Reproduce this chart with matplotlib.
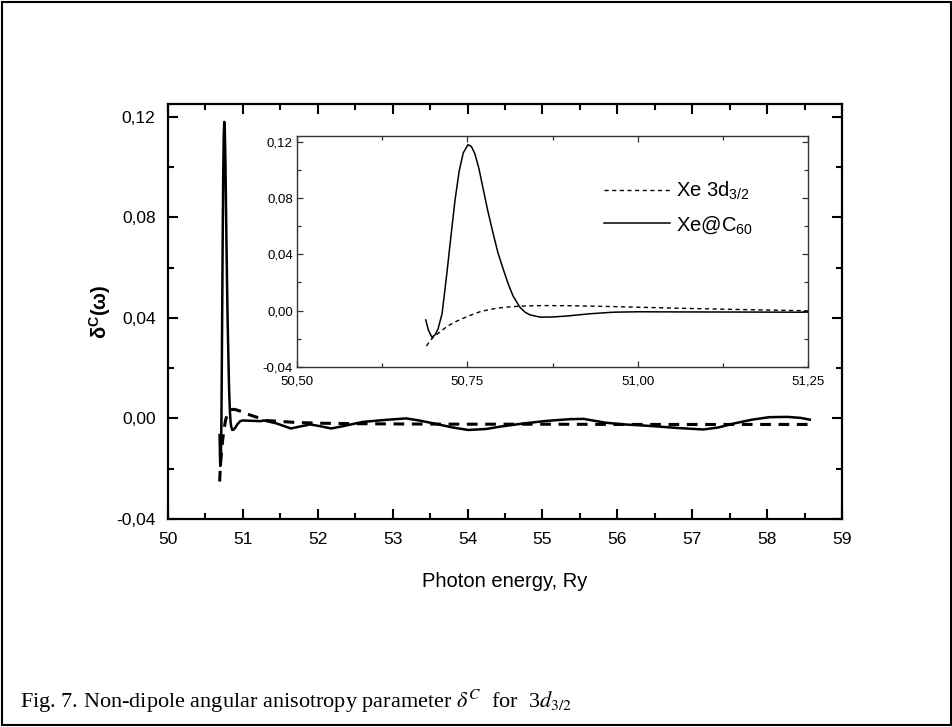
import numpy as np
import matplotlib
matplotlib.use("Agg")
import matplotlib.pyplot as plt
from matplotlib.ticker import MultipleLocator, FuncFormatter
from matplotlib.patches import Rectangle

plt.rcParams['font.family'] = ['Liberation Sans', 'DejaVu Sans']
plt.rcParams['mathtext.fontset'] = 'custom'
plt.rcParams['mathtext.rm'] = 'Liberation Sans'
plt.rcParams['mathtext.it'] = 'Liberation Sans:italic'
plt.rcParams['mathtext.bf'] = 'Liberation Sans:bold'

x_c60_pico = [50.689, 50.693, 50.698, 50.703, 50.707, 50.713, 50.720, 50.726, 50.732,
              50.738, 50.744, 50.751, 50.756, 50.761, 50.767, 50.773, 50.780, 50.788,
              50.795, 50.803, 50.810, 50.817, 50.827, 50.835, 50.842, 50.857, 50.875,
              50.896, 50.930, 50.964, 51.000, 51.062, 51.160, 51.238]
y_c60_pico = [-0.0066, -0.0140, -0.0189, -0.0170, -0.0130, -0.0020, 0.0266, 0.0530, 0.0787,
              0.0990, 0.1120, 0.1179, 0.1165, 0.1115, 0.1010, 0.0870, 0.0710, 0.0545,
              0.0410, 0.0290, 0.0190, 0.0105, 0.0025, -0.0012, -0.0030, -0.0046, -0.0045,
              -0.0038, -0.0022, -0.0011, -0.0008, -0.0009, -0.0010, -0.0011]

x_xe_pico = [50.690, 50.695, 50.700, 50.710, 50.720, 50.732, 50.744, 50.757, 50.769, 50.781,
             50.793, 50.805, 50.818, 50.840, 50.866, 50.900, 50.964, 51.062, 51.150, 51.238]
y_xe_pico = [-0.0251, -0.0215, -0.0189, -0.0150, -0.0113, -0.0080, -0.0054, -0.0028, -0.0007,
             0.0006, 0.0017, 0.0024, 0.0029, 0.0034, 0.0036, 0.0035, 0.0029, 0.0017, 0.0008, 0.0000]

# --- datos: resto del rango (gráfica principal) ---
x_c60_cola = [51.28, 51.45, 51.64, 51.80, 51.90, 52.05, 52.18, 52.35, 52.60, 52.90, 53.18,
              53.35, 53.55, 53.80, 54.01, 54.25, 54.45, 54.75, 55.05, 55.37, 55.55, 55.84,
              56.10, 56.44, 56.80, 57.15, 57.35, 57.56, 57.80, 58.03, 58.27, 58.45, 58.57]
y_c60_cola = [-0.0008, -0.0020, -0.0040, -0.0030, -0.0024, -0.0032, -0.0040, -0.0030, -0.0014,
              -0.0006, 0.0000, -0.0008, -0.0020, -0.0036, -0.0046, -0.0042, -0.0032, -0.0020,
              -0.0010, -0.0003, -0.0002, -0.0017, -0.0024, -0.0030, -0.0038, -0.0044, -0.0036,
              -0.0020, -0.0005, 0.0005, 0.0006, 0.0002, -0.0005]

x_xe_cola = [51.30, 51.50, 51.70, 52.00, 52.50, 53.00, 54.00, 55.00, 56.00, 57.00, 58.00, 58.57]
y_xe_cola = [-0.0008, -0.0012, -0.0016, -0.0019, -0.0021, -0.0022, -0.0023, -0.0023, -0.0024,
             -0.0024, -0.0024, -0.0024]

x_c60 = x_c60_pico + x_c60_cola
y_c60 = y_c60_pico + y_c60_cola
x_xe = x_xe_pico + x_xe_cola
y_xe = y_xe_pico + y_xe_cola

coma = FuncFormatter(lambda v, p: f"{v:.2f}".replace('.', ','))

fig = plt.figure(figsize=(9.53, 7.27), dpi=100)

# --- gráfica principal ---
ax = fig.add_axes([0.1763, 0.2861, 0.7072, 0.5708])
ax.plot(x_xe, y_xe, color='black', lw=2.2, ls=(0, (3.5, 2.5)))
ax.plot(x_c60, y_c60, color='black', lw=1.8)
ax.set_xlim(50, 59)
ax.set_ylim(-0.04, 0.125)
ax.xaxis.set_major_locator(MultipleLocator(1))
ax.xaxis.set_minor_locator(MultipleLocator(0.5))
ax.yaxis.set_major_locator(MultipleLocator(0.04))
ax.yaxis.set_minor_locator(MultipleLocator(0.02))
ax.yaxis.set_major_formatter(coma)
ax.tick_params(which='both', direction='in', top=True, right=True, width=1.5, labelsize=12.5)
ax.tick_params(which='major', length=7, pad=9)
ax.tick_params(which='minor', length=4)
for s in ax.spines.values():
    s.set_linewidth(1.6)
ax.set_xlabel('Photon energy, Ry', fontsize=14.5, labelpad=18)
ax.set_ylabel(r'δ$^{\mathbf{C}}$(ω)', fontsize=14.5, fontweight='bold', labelpad=2)

# --- recuadro ---
ins = fig.add_axes([0.3116, 0.4952, 0.5363, 0.3177])
ins.plot(x_xe, y_xe, color='black', lw=1.0, ls=(0, (3, 2.5)), label='Xe 3d$_{\\mathrm{3/2}}$')
ins.plot(x_c60, y_c60, color='black', lw=1.1, label='Xe@C$_{\\mathrm{60}}$')
ins.set_xlim(50.5, 51.25)
ins.set_ylim(-0.04, 0.124)
ins.xaxis.set_major_locator(MultipleLocator(0.25))
ins.xaxis.set_minor_locator(MultipleLocator(0.125))
ins.yaxis.set_major_locator(MultipleLocator(0.04))
ins.yaxis.set_minor_locator(MultipleLocator(0.02))
ins.xaxis.set_major_formatter(coma)
ins.yaxis.set_major_formatter(coma)
ins.tick_params(which='both', direction='in', top=True, right=True, width=0.9, labelsize=9.5,
                colors='#333333', labelcolor='black')
ins.tick_params(which='major', length=4, pad=3)
ins.tick_params(axis='x', which='major', pad=6)
ins.tick_params(which='minor', length=3)
for s in ins.spines.values():
    s.set_linewidth(1.0)
    s.set_color('#333333')
ins.legend(loc='upper left', bbox_to_anchor=(0.565, 0.89), frameon=False, fontsize=14.5,
           handlelength=3.3, handletextpad=0.3, labelspacing=0.6)

# --- pie de figura y marco ---
fig.text(0.021, 0.026, r'Fig. 7. Non-dipole angular anisotropy parameter $\delta^{C}$  for  3$d_{\mathrm{3/2}}$',
         fontsize=16, family='Liberation Serif', math_fontfamily='stix', va='baseline')
fig.patches.append(Rectangle((0.002, 0.003), 0.996, 0.994, transform=fig.transFigure,
                             fill=False, lw=1.5, edgecolor='black'))

plt.savefig('out.png', dpi=100)
